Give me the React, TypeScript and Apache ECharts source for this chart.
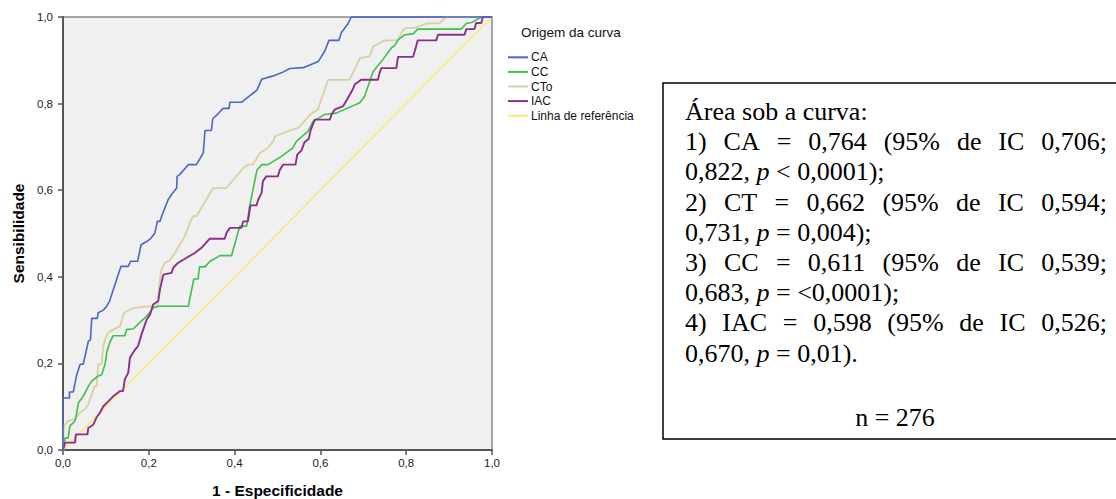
import React, { useEffect, useRef } from "react";
import * as echarts from "echarts";

// ROC curve points: [1 - especificidade, sensibilidade]
const CA_POINTS: number[][] = [
  [0, 0], [0, 0.12], [0.015, 0.12], [0.015, 0.134], [0.024, 0.134], [0.032, 0.174], [0.04, 0.198], [0.047, 0.198],
  [0.054, 0.228], [0.059, 0.251], [0.064, 0.255], [0.067, 0.304], [0.08, 0.304], [0.082, 0.317], [0.094, 0.323],
  [0.102, 0.332], [0.109, 0.345], [0.125, 0.394], [0.135, 0.424], [0.152, 0.424], [0.158, 0.436], [0.174, 0.436],
  [0.182, 0.474], [0.196, 0.482], [0.206, 0.49], [0.214, 0.501], [0.22, 0.528], [0.226, 0.528], [0.23, 0.54],
  [0.245, 0.578], [0.253, 0.59], [0.265, 0.605], [0.266, 0.632], [0.272, 0.636], [0.292, 0.659], [0.311, 0.659],
  [0.327, 0.686], [0.331, 0.738], [0.346, 0.738], [0.349, 0.765], [0.362, 0.777], [0.373, 0.789], [0.387, 0.789],
  [0.389, 0.803], [0.416, 0.803], [0.435, 0.818], [0.452, 0.831], [0.463, 0.856], [0.49, 0.864], [0.509, 0.871],
  [0.529, 0.881], [0.56, 0.883], [0.595, 0.897], [0.61, 0.921], [0.62, 0.946], [0.643, 0.946], [0.649, 0.964],
  [0.664, 0.984], [0.672, 1], [1, 1],
];
const CC_POINTS: number[][] = [
  [0, 0], [0.005, 0.028], [0.012, 0.028], [0.016, 0.055], [0.028, 0.067], [0.032, 0.086], [0.036, 0.109],
  [0.047, 0.124], [0.059, 0.147], [0.067, 0.159], [0.082, 0.171], [0.09, 0.174], [0.098, 0.198], [0.102, 0.225],
  [0.109, 0.248], [0.117, 0.264], [0.144, 0.264], [0.148, 0.278], [0.164, 0.28], [0.179, 0.294], [0.195, 0.309],
  [0.21, 0.328], [0.222, 0.332], [0.292, 0.332], [0.305, 0.395], [0.315, 0.395], [0.318, 0.423], [0.331, 0.423],
  [0.343, 0.436], [0.366, 0.449], [0.393, 0.449], [0.412, 0.517], [0.428, 0.517], [0.435, 0.563], [0.452, 0.646],
  [0.463, 0.659], [0.478, 0.659], [0.509, 0.678], [0.536, 0.698], [0.544, 0.713], [0.571, 0.736], [0.583, 0.759],
  [0.61, 0.775], [0.637, 0.778], [0.692, 0.802], [0.703, 0.817], [0.715, 0.851], [0.723, 0.874], [0.742, 0.897],
  [0.765, 0.928], [0.773, 0.934], [0.781, 0.947], [0.796, 0.959], [0.816, 0.961], [0.827, 0.972], [0.928, 0.972],
  [0.94, 0.985], [0.955, 0.988], [0.971, 0.998], [0.979, 1], [1, 1],
];
const CTO_POINTS: number[][] = [
  [0, 0], [0.002, 0.055], [0.012, 0.067], [0.028, 0.071], [0.039, 0.086], [0.051, 0.094], [0.059, 0.105],
  [0.067, 0.128], [0.073, 0.147], [0.078, 0.147], [0.082, 0.198], [0.09, 0.198], [0.094, 0.24], [0.098, 0.255],
  [0.105, 0.271], [0.117, 0.278], [0.133, 0.286], [0.142, 0.317], [0.164, 0.328], [0.195, 0.331], [0.22, 0.332],
  [0.226, 0.394], [0.23, 0.417], [0.237, 0.432], [0.249, 0.438], [0.261, 0.455], [0.272, 0.474], [0.284, 0.494],
  [0.296, 0.525], [0.303, 0.54], [0.311, 0.54], [0.35, 0.605], [0.381, 0.605], [0.42, 0.651], [0.431, 0.659],
  [0.443, 0.659], [0.459, 0.686], [0.478, 0.698], [0.49, 0.713], [0.494, 0.724], [0.529, 0.738], [0.548, 0.744],
  [0.579, 0.777], [0.594, 0.786], [0.618, 0.855], [0.668, 0.855], [0.692, 0.905], [0.715, 0.909], [0.723, 0.932],
  [0.75, 0.946], [0.781, 0.946], [0.792, 0.969], [0.8, 0.975], [0.82, 0.975], [0.847, 0.985], [0.878, 0.986],
  [0.893, 1], [1, 1],
];
const IAC_POINTS: number[][] = [
  [0, 0], [0.005, 0.017], [0.028, 0.017], [0.03, 0.036], [0.057, 0.036], [0.059, 0.051], [0.071, 0.059],
  [0.078, 0.075], [0.086, 0.086], [0.094, 0.101], [0.102, 0.109], [0.117, 0.124], [0.133, 0.136], [0.14, 0.136],
  [0.144, 0.163], [0.152, 0.178], [0.156, 0.213], [0.168, 0.232], [0.175, 0.24], [0.183, 0.267], [0.195, 0.301],
  [0.203, 0.313], [0.21, 0.336], [0.222, 0.344], [0.226, 0.371], [0.234, 0.405], [0.253, 0.409], [0.257, 0.421],
  [0.268, 0.432], [0.288, 0.444], [0.307, 0.455], [0.323, 0.467], [0.342, 0.488], [0.377, 0.488], [0.381, 0.501],
  [0.389, 0.513], [0.416, 0.513], [0.42, 0.528], [0.431, 0.528], [0.437, 0.565], [0.451, 0.565], [0.455, 0.578],
  [0.463, 0.594], [0.466, 0.621], [0.474, 0.632], [0.501, 0.632], [0.505, 0.646], [0.513, 0.659], [0.542, 0.659],
  [0.546, 0.682], [0.556, 0.692], [0.563, 0.711], [0.573, 0.719], [0.577, 0.738], [0.587, 0.763], [0.622, 0.763],
  [0.626, 0.775], [0.633, 0.786], [0.653, 0.794], [0.66, 0.806], [0.675, 0.832], [0.68, 0.844], [0.695, 0.855],
  [0.734, 0.855], [0.738, 0.871], [0.742, 0.882], [0.777, 0.882], [0.781, 0.908], [0.816, 0.908], [0.82, 0.921],
  [0.823, 0.932], [0.827, 0.946], [0.87, 0.946], [0.874, 0.959], [0.936, 0.959], [0.94, 0.972], [0.959, 0.972],
  [0.963, 0.986], [0.975, 0.986], [0.979, 1], [1, 1],
];
const REF_POINTS: number[][] = [[0, 0], [1, 1]];

const SERIES_NAMES = ["CA", "CC", "CTo", "IAC", "Linha de referência"];
const LEGEND_TITLE = "Origem da curva";
const X_AXIS_NAME = "1 - Especificidade";
const Y_AXIS_NAME = "Sensibilidade";

// Text box lines: [kind, text]; kind: L = left, J = justified, C = centered
const AUC_LINES: [string, string][] = [
  ["L", "Área sob a curva:"],
  ["J", "1) CA = 0,764 (95% de IC 0,706;"],
  ["L", "0,822, {i|p} < 0,0001);"],
  ["J", "2) CT = 0,662 (95% de IC 0,594;"],
  ["L", "0,731, {i|p} = 0,004);"],
  ["J", "3) CC = 0,611 (95% de IC 0,539;"],
  ["L", "0,683, {i|p} = <0,0001);"],
  ["J", "4) IAC = 0,598 (95% de IC 0,526;"],
  ["L", "0,670, {i|p} = 0,01)."],
  ["C", "n = 276"],
];

const SANS = "'Liberation Sans', Arial, sans-serif";
const SERIF = "'Liberation Serif', 'Times New Roman', serif";

export default function App() {
  const ref = useRef<HTMLDivElement>(null);
  useEffect(() => {
    if (!ref.current) return;
    const chart = echarts.init(ref.current, null, { renderer: "svg" });

    const fontSize = 26;
    const canvas = document.createElement("canvas");
    const ctx = canvas.getContext("2d")!;
    ctx.font = `${fontSize}px ${SERIF}`;
    const measure = (s: string) => ctx.measureText(s).width;

    const boxLeft = 685;
    const boxRight = 1107;
    const firstY = 111.5;
    const lineStep = 30.2;
    const textEls: any[] = [];
    AUC_LINES.forEach(([kind, text], i) => {
      const y = kind === "C" ? 417 : firstY + i * lineStep;
      const base = { fontSize, fontFamily: SERIF, fill: "#000", verticalAlign: "middle" };
      if (kind === "J") {
        const words = text.split(" ");
        const widths = words.map(measure);
        const total = widths.reduce((a, b) => a + b, 0);
        const gap = (boxRight - boxLeft - total) / (words.length - 1);
        let x = boxLeft;
        words.forEach((w, k) => {
          textEls.push({ type: "text", x, y, style: { ...base, text: w, align: "left" } });
          x += widths[k] + gap;
        });
      } else if (kind === "C") {
        textEls.push({ type: "text", x: 895, y, style: { ...base, text, align: "center" } });
      } else {
        textEls.push({
          type: "text",
          x: boxLeft,
          y,
          style: {
            ...base,
            text,
            align: "left",
            rich: { i: { fontSize, fontFamily: SERIF, fontStyle: "italic", fill: "#000" } },
          },
        });
      }
    });

    const colors = ["#4a67c4", "#3fbf4c", "#d8d0a2", "#8a2f8a", "#f3ed72"];
    const widths = [1.6, 1.6, 1.8, 1.9, 1.5];
    const datasets = [CA_POINTS, CC_POINTS, CTO_POINTS, IAC_POINTS, REF_POINTS];
    const drawOrder = [4, 2, 1, 3, 0];

    const axisLine = { show: true, onZero: false, lineStyle: { color: "#555", width: 2 } };
    const axisCommon = {
      type: "value",
      min: 0,
      max: 1,
      interval: 0.2,
      nameLocation: "middle",
      nameTextStyle: { fontWeight: "bold", fontSize: 15.5, color: "#000", fontFamily: SANS },
      axisLine,
      axisTick: { show: true, length: 5, inside: false, lineStyle: { color: "#555", width: 1.5 } },
      splitLine: { show: false },
      axisLabel: {
        fontSize: 11.5,
        color: "#222",
        fontFamily: SANS,
        showMinLabel: true,
        showMaxLabel: true,
        formatter: (v: number) => v.toFixed(1).replace(".", ","),
      },
    };

    chart.setOption({
      animation: false,
      grid: {
        left: 63,
        top: 17,
        width: 429,
        height: 433,
        show: true,
        containLabel: false,
        outerBoundsMode: "none",
        backgroundColor: "#f0f0f0",
        borderColor: "#8a8a8a",
        borderWidth: 1.5,
      },
      xAxis: { ...axisCommon, name: X_AXIS_NAME, nameGap: 32, axisLabel: { ...axisCommon.axisLabel, margin: 7 } },
      yAxis: { ...axisCommon, name: Y_AXIS_NAME, nameGap: 37, nameRotate: 90, axisLabel: { ...axisCommon.axisLabel, margin: 10 } },
      legend: {
        data: SERIES_NAMES,
        orient: "vertical",
        left: 508,
        top: 50,
        padding: 0,
        itemGap: 0,
        itemWidth: 20,
        itemHeight: 2,
        icon: "rect",
        textStyle: { fontSize: 12, fontFamily: SANS, color: "#111", lineHeight: 14.6, padding: [0, 0, 0, -2] },
        selectedMode: false,
      },
      series: drawOrder.map((idx) => ({
        name: SERIES_NAMES[idx],
        type: "line",
        data: datasets[idx],
        symbol: "none",
        showSymbol: false,
        clip: false,
        silent: true,
        color: colors[idx],
        lineStyle: { color: colors[idx], width: widths[idx] },
        z: 3,
      })),
      graphic: [
        {
          type: "text",
          left: 521,
          top: 25,
          style: { text: LEGEND_TITLE, fontSize: 13.5, fontFamily: SANS, fill: "#111" },
        },
        {
          type: "rect",
          shape: { x: 663, y: 83, width: 470, height: 356 },
          style: { fill: "#fff", stroke: "#000", lineWidth: 1.5 },
        },
        ...textEls,
      ],
    });
    return () => chart.dispose();
  }, []);
  return (
    <div
      ref={ref}
      style={{ position: "fixed", left: 0, top: 0, width: 1116, height: 499, background: "#fff" }}
    />
  );
}
